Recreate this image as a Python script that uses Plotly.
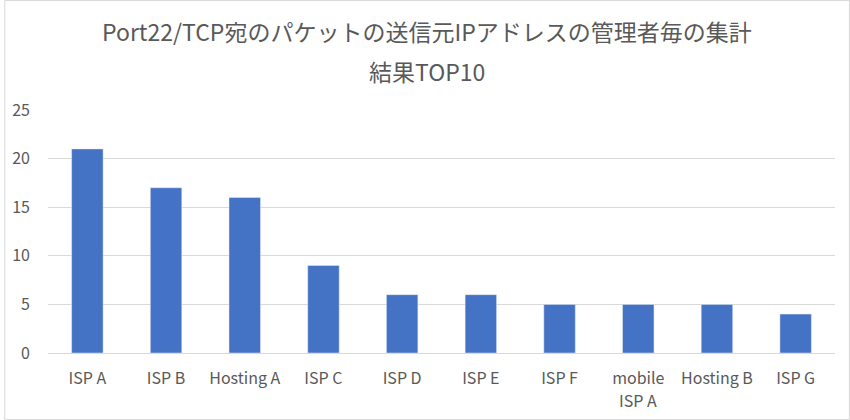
import plotly.graph_objects as go

categories = ["ISP A", "ISP B", "Hosting A", "ISP C", "ISP D", "ISP E", "ISP F", "mobile ISP A", "Hosting B", "ISP G"]
values = [21, 17, 16, 9, 6, 6, 5, 5, 5, 4]
tick_line1 = ["ISP A", "ISP B", "Hosting A", "ISP C", "ISP D", "ISP E", "ISP F", "mobile", "Hosting B", "ISP G"]
tick_line2 = ["", "", "", "", "", "", "", "ISP A", "", ""]
title_line1 = "Port22/TCP宛のパケットの送信元IPアドレスの管理者毎の集計"
title_line2 = "結果TOP10"

W, H = 850, 420
L, R, T, B = 44, 15, 110, 67
pw, ph = W - L - R, H - T - B

font = "Noto Sans CJK JP, Noto Sans, sans-serif"
gray = "#595959"

fig = go.Figure(go.Bar(x=categories, y=values, marker_color="#4472C4", width=0.4))

annotations = [
    dict(text=title_line1, xref="paper", yref="paper", x=(W / 2 - L) / pw, y=1 + (T - 31) / ph,
         xanchor="center", yanchor="middle", showarrow=False,
         font=dict(size=23, color=gray, family=font)),
    dict(text=title_line2, xref="paper", yref="paper", x=(W / 2 - L) / pw, y=1 + (T - 71) / ph,
         xanchor="center", yanchor="middle", showarrow=False,
         font=dict(size=23, color=gray, family=font)),
]
for cat, extra in zip(categories, tick_line2):
    if extra:
        annotations.append(dict(text=extra, x=cat, xref="x", yref="paper", y=-47 / ph,
                                xanchor="center", yanchor="middle", showarrow=False,
                                font=dict(size=16, color=gray, family=font)))

fig.update_layout(
    width=W, height=H,
    margin=dict(l=L, r=R, t=T, b=B),
    paper_bgcolor="white", plot_bgcolor="white",
    showlegend=False,
    font=dict(family=font, color=gray, size=16),
    xaxis=dict(showgrid=False, showline=False, ticks="", tickfont=dict(size=16, color=gray),
               tickmode="array", tickvals=categories, ticktext=tick_line1,
               ticklabelstandoff=14),
    yaxis=dict(range=[0, 25], dtick=5, showgrid=True, gridcolor="#D9D9D9", gridwidth=1,
               zeroline=True, zerolinecolor="#D9D9D9", zerolinewidth=1,
               showline=False, ticks="", tickfont=dict(size=16, color=gray),
               ticklabelstandoff=17),
    annotations=annotations,
    shapes=[
        dict(type="rect", xref="paper", yref="paper",
             x0=(0.5 - L) / pw, x1=(W - 0.5 - L) / pw,
             y0=-(B - 0.5) / ph, y1=1 + (T - 0.5) / ph,
             line=dict(color="#D9D9D9", width=1), fillcolor="rgba(0,0,0,0)", layer="below"),
    ],
)

fig.write_html("out.html", config={"displayModeBar": False},
               post_script="document.body.style.margin='0';")
